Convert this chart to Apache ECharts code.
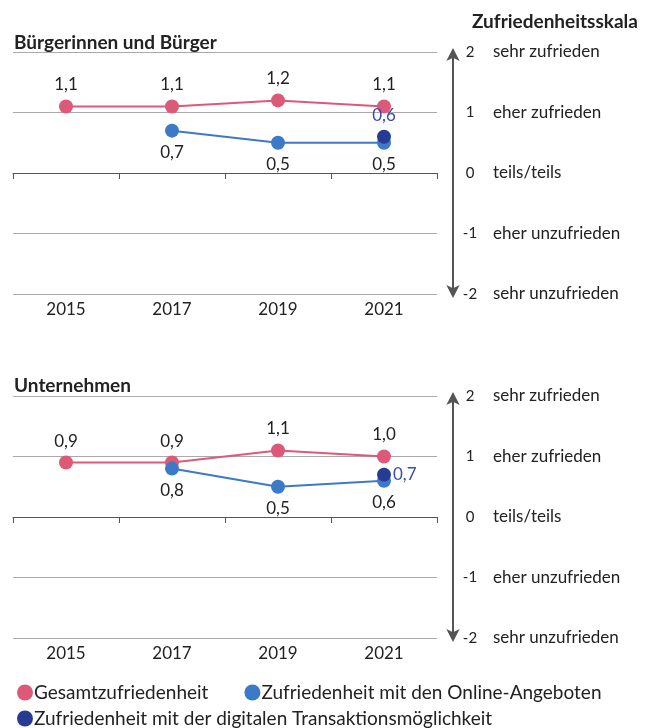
<!DOCTYPE html>
<html><head><meta charset="utf-8">
<script src="https://cdn.jsdelivr.net/npm/echarts@6/dist/echarts.min.js"></script>
<style>html,body{margin:0;padding:0;background:#fff}#c{width:651px;height:728px}</style>
</head><body><div id="c"></div>
<script>
const years = ['2015','2017','2019','2021'];
const scaleTicks = {'2':'sehr zufrieden','1':'eher zufrieden','0':'teils/teils','-1':'eher unzufrieden','-2':'sehr unzufrieden'};
const buergerGesamt = [1.1, 1.1, 1.2, 1.1];
const buergerOnline = [null, 0.7, 0.5, 0.5];
const buergerTrans = [null, null, null, 0.6];
const unternGesamt = [0.9, 0.9, 1.1, 1.0];
const unternOnline = [null, 0.8, 0.5, 0.6];
const unternTrans = [null, null, null, 0.7];
const names = ['Gesamtzufriedenheit','Zufriedenheit mit den Online-Angeboten','Zufriedenheit mit der digitalen Transaktionsmöglichkeit'];
const colors = ['#dc5a78','#3c7ac8','#273b95'];
const F = 'Lato';
const fmt = p => p.value == null ? '' : p.value.toFixed(1).replace('.', ',');

function xAx(i){return {type:'category',gridIndex:i,data:years,boundaryGap:true,
  axisLine:{lineStyle:{color:'#555',width:1}},axisTick:{show:true,inside:false,length:6,lineStyle:{color:'#555'}},
  axisLabel:{color:'#222',fontFamily:F,fontSize:17,margin:7}};}
function yAx(i){return {type:'value',gridIndex:i,min:-2,max:2,interval:1,position:'right',offset:16,
  splitLine:{show:true,lineStyle:{color:'#aaa',width:1}},
  axisLine:{show:true,symbol:['arrow','arrow'],symbolSize:[10,13],symbolOffset:[-4,4],lineStyle:{color:'#555',width:2}},
  axisTick:{show:false},
  axisLabel:{margin:6,fontFamily:F,color:'#222',
    formatter:v=>'{n|'+v+'}{t|'+scaleTicks[String(v)]+'}',
    rich:{n:{width:22,align:'center',fontSize:15,fontFamily:F,color:'#222'},t:{fontSize:17,fontFamily:F,color:'#222',padding:[0,0,0,12]}}}};}
function lineS(name,i,data,color,pos,lblColor){return {name:name,type:'line',xAxisIndex:i,yAxisIndex:i,data:data,
  symbol:'circle',symbolSize:14,color:color,lineStyle:{color:color,width:2},itemStyle:{color:color},
  label:{show:true,position:pos,distance:pos==='right'?2:6,formatter:fmt,fontFamily:F,fontSize:17,color:lblColor||'#222'},
  connectNulls:false,z:3};}
const legTxt = {fontFamily:F,fontSize:19,color:'#222',padding:[0,0,0,-4]};

const chart = echarts.init(document.getElementById('c'),null,{renderer:'canvas'});
chart.setOption({
  animation:false,
  textStyle:{fontFamily:F},
  title:[
    {text:'Bürgerinnen und Bürger',left:9,top:28,textStyle:{fontFamily:F,fontWeight:'bold',fontSize:19,color:'#222'}},
    {text:'Unternehmen',left:9,top:371,textStyle:{fontFamily:F,fontWeight:'bold',fontSize:19,color:'#222'}},
    {text:'Zufriedenheitsskala',left:467,top:7,textStyle:{fontFamily:F,fontWeight:'bold',fontSize:19,color:'#222'}}
  ],
  grid:[{left:13,right:214,top:52,bottom:434},{left:13,right:214,top:396,bottom:90}],
  xAxis:[xAx(0),xAx(1)],
  yAxis:[yAx(0),yAx(1)],
  legend:[
    {left:12,top:678,itemGap:36,itemWidth:16,itemHeight:16,icon:'circle',textStyle:legTxt,data:[names[0],names[1]]},
    {left:12,top:704,itemWidth:16,itemHeight:16,icon:'circle',textStyle:legTxt,data:[names[2]]}
  ],
  series:[
    lineS(names[0],0,buergerGesamt,colors[0],'top'),
    lineS(names[1],0,buergerOnline,colors[1],'bottom'),
    lineS(names[2],0,buergerTrans,colors[2],'top','#3a4cac'),
    lineS(names[0],1,unternGesamt,colors[0],'top'),
    lineS(names[1],1,unternOnline,colors[1],'bottom'),
    lineS(names[2],1,unternTrans,colors[2],'right','#3a4cac')
  ]
});
</script></body></html>
